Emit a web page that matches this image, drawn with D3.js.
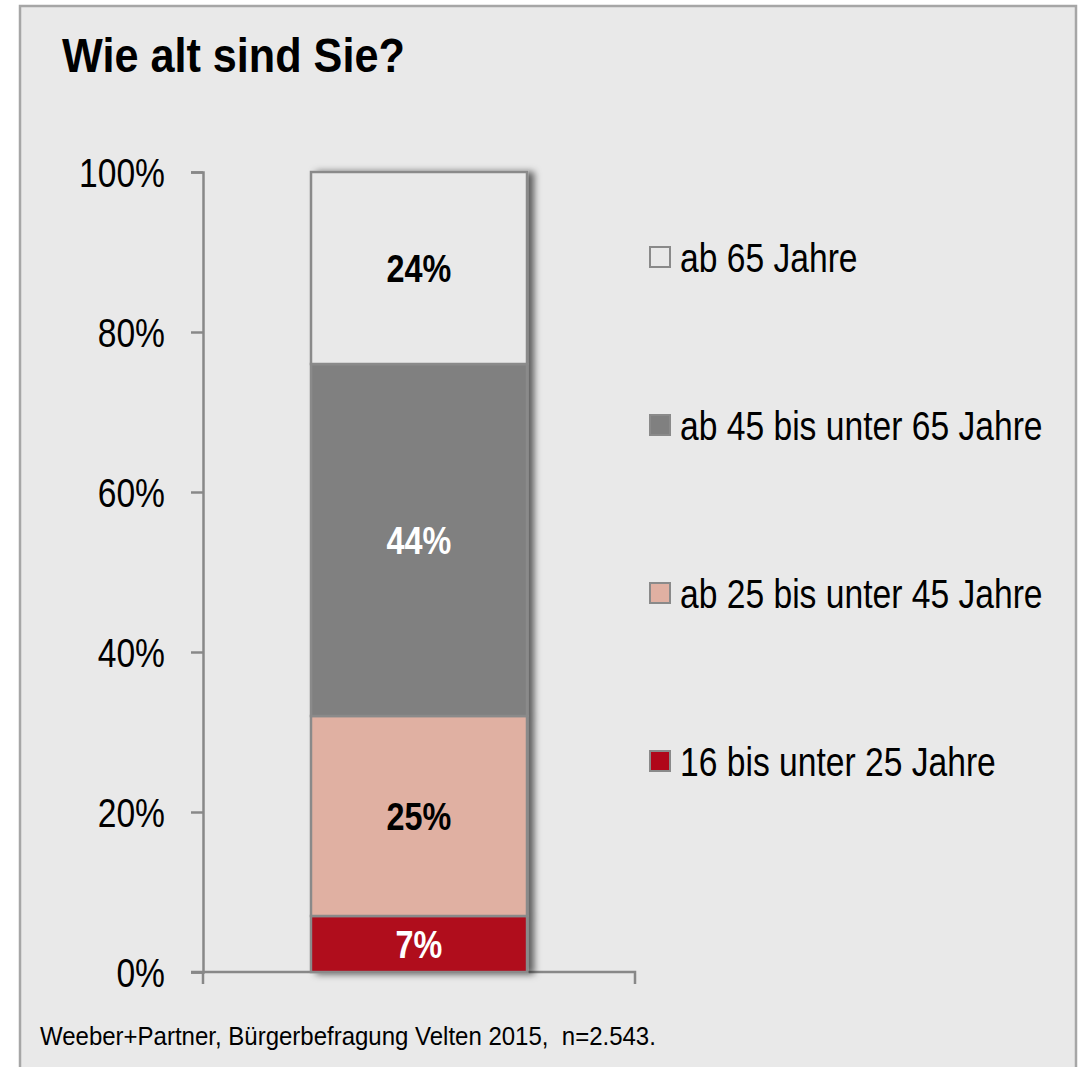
<!DOCTYPE html>
<html>
<head>
<meta charset="utf-8">
<script src="https://cdn.jsdelivr.net/npm/d3@7"></script>
<style>
  html, body { margin: 0; padding: 0; background: #fff; }
  svg { display: block; font-family: "Liberation Sans", Arial, sans-serif; }
</style>
</head>
<body>
<div id="chart"></div>
<script>
// age groups, bottom to top
var groups = ["16 bis unter 25 Jahre", "ab 25 bis unter 45 Jahre", "ab 45 bis unter 65 Jahre", "ab 65 Jahre"];
var shares = [7, 25, 44, 24];
var fills = ["#b0071a", "#e0b0a2", "#808080", "#e9e9e9"];
var labelColors = ["#fff", "#000", "#fff", "#000"];
var yTicks = [0, 20, 40, 60, 80, 100];

var W = 1079, H = 1067;
var margin = {top: 172, left: 203, bottom: 95};
var plotH = H - margin.top - margin.bottom;   // 800
var plotW = 432;
var NARROW = 0.82;   // no Arial Narrow here, squeeze Liberation Sans instead

var svg = d3.select("#chart").append("svg")
  .attr("width", W)
  .attr("height", H);

var defs = svg.append("defs");
var f = defs.append("filter").attr("id", "shadow")
  .attr("x", "-10%").attr("y", "-5%").attr("width", "130%").attr("height", "110%");
f.append("feDropShadow")
  .attr("dx", 6).attr("dy", 1).attr("stdDeviation", 3.5)
  .attr("flood-color", "#000").attr("flood-opacity", 0.6);

// squeezed text at (x,y)
function narrowText(sel, x, y, sx) {
  return sel.append("g")
    .attr("transform", "translate(" + x + "," + y + ") scale(" + sx + ",1)")
    .append("text");
}

// frame
svg.append("rect")
  .attr("x", 20).attr("y", 6)
  .attr("width", 1056).attr("height", H + 10)
  .attr("fill", "#e9e9e9")
  .attr("stroke", "#a6a6a6")
  .attr("stroke-width", 2.5);

narrowText(svg, 62, 72, 0.9)
  .style("font-size", "48px")
  .style("font-weight", "bold")
  .text("Wie alt sind Sie?");

var y = d3.scaleLinear().domain([0, 100]).range([plotH, 0]);
var x = d3.scaleBand().domain(["all"]).range([0, plotW]).paddingInner(0.5).paddingOuter(0.25);

var g = svg.append("g").attr("transform", "translate(" + margin.left + "," + margin.top + ")");

// axes
var yAxis = g.append("g").call(d3.axisLeft(y).tickValues(yTicks).tickSize(12).tickPadding(26)
  .tickFormat(function(d) { return d + "%"; }));
yAxis.select(".domain").attr("stroke", "#888").attr("stroke-width", 2.5);
yAxis.selectAll(".tick line").attr("stroke", "#888").attr("stroke-width", 2.5);
yAxis.selectAll(".tick text")
  .attr("fill", "#000")
  .attr("x", -38 / NARROW)
  .attr("transform", "scale(" + NARROW + ",1)")
  .style("font-family", "'Liberation Sans', Arial, sans-serif")
  .style("font-size", "41px")
  .attr("dy", "0.36em");

var xAxis = g.append("g").attr("transform", "translate(0," + plotH + ")")
  .call(d3.axisBottom(x).tickSize(0).tickFormat(""));
xAxis.select(".domain").remove();
xAxis.append("path")
  .attr("d", "M-12,0H" + plotW + "V12")
  .attr("fill", "none").attr("stroke", "#888").attr("stroke-width", 2.5);
xAxis.append("path")
  .attr("d", "M0,0V12")
  .attr("fill", "none").attr("stroke", "#888").attr("stroke-width", 2.5);

// stacked bar
var stackData = [];
var acc = 0;
shares.forEach(function(v, i) {
  stackData.push({group: groups[i], y0: acc, y1: acc + v, v: v, i: i});
  acc += v;
});

var bars = g.append("g").attr("filter", "url(#shadow)");
bars.selectAll("rect").data(stackData).enter().append("rect")
  .attr("x", x("all"))
  .attr("width", x.bandwidth())
  .attr("y", function(d) { return y(d.y1); })
  .attr("height", function(d) { return y(d.y0) - y(d.y1); })
  .attr("fill", function(d) { return fills[d.i]; })
  .attr("stroke", "#8a8a8a")
  .attr("stroke-width", 2.5);

var lbl = g.append("g").selectAll("g").data(stackData).enter().append("g")
  .attr("transform", function(d) {
    return "translate(" + (x("all") + x.bandwidth() / 2) + "," + y((d.y0 + d.y1) / 2) + ") scale(0.83,1)";
  });
lbl.append("text")
  .attr("dy", "0.36em")
  .attr("text-anchor", "middle")
  .attr("fill", function(d) { return labelColors[d.i]; })
  .style("font-size", "39px")
  .style("font-weight", "bold")
  .text(function(d) { return d.v + "%"; });

// legend, top entry first
var legendData = stackData.slice().reverse();
var lg = svg.append("g").attr("transform", "translate(649,257)");
var item = lg.selectAll("g").data(legendData).enter().append("g")
  .attr("transform", function(d, k) { return "translate(0," + (k * 168) + ")"; });
item.append("rect")
  .attr("x", 1).attr("y", -10)
  .attr("width", 20).attr("height", 20)
  .attr("fill", function(d) { return fills[d.i]; })
  .attr("stroke", "#8a8a8a")
  .attr("stroke-width", 2);
item.append("text")
  .attr("x", 31 / NARROW)
  .attr("dy", "0.36em")
  .attr("transform", "scale(" + NARROW + ",1)")
  .style("font-size", "41px")
  .text(function(d) { return d.group; });

narrowText(svg, 40, 1045, 0.96)
  .style("font-size", "25px")
  .style("white-space", "pre")
  .text("Weeber+Partner, B\u00fcrgerbefragung Velten 2015,  n=2.543.");
</script>
</body>
</html>
